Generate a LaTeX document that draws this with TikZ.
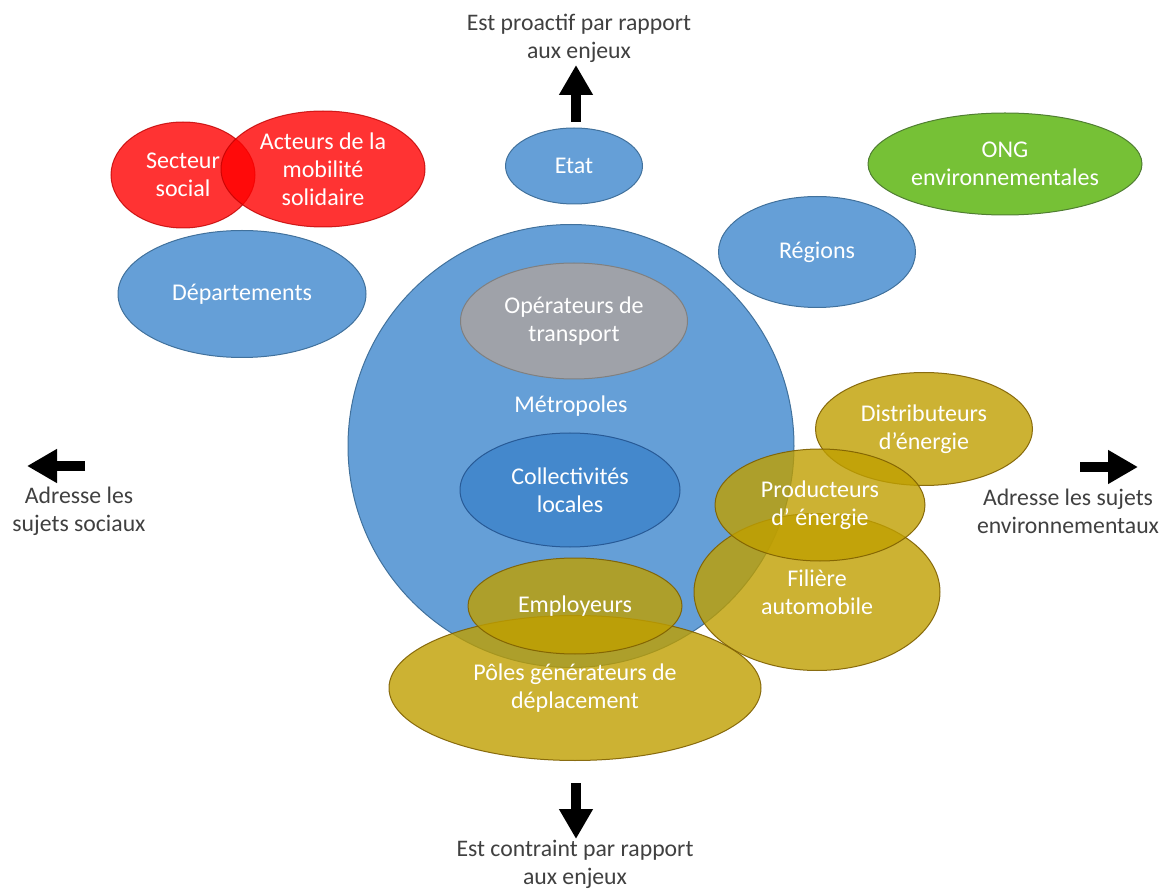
\documentclass[tikz,border=0pt]{standalone}
\usepackage{fontspec}
\setmainfont{Carlito}
\usetikzlibrary{arrows.meta,shapes.geometric}
\definecolor{blueF}{RGB}{101,159,215}
\definecolor{blueD}{RGB}{65,113,156}
\definecolor{collF}{RGB}{68,136,204}
\definecolor{collD}{RGB}{40,90,150}
\definecolor{grayF}{RGB}{159,162,169}
\definecolor{grayD}{RGB}{128,128,128}
\definecolor{redD}{RGB}{192,0,0}
\definecolor{greenF}{RGB}{118,193,54}
\definecolor{greenD}{RGB}{80,126,50}
\definecolor{goldF}{RGB}{191,159,0}
\definecolor{goldD}{RGB}{127,96,0}
\definecolor{txtG}{RGB}{64,64,64}
\begin{document}
\begin{tikzpicture}[x=0.75pt,y=-0.75pt,
  ell/.style={ellipse, draw, line width=0.75pt, inner sep=0pt, align=center, text=white,
    font=\fontsize{18}{21}\selectfont},
  blueE/.style={ell, fill=blueF, draw=blueD},
  redE/.style={ell, fill=red, fill opacity=0.8, draw=redD, draw opacity=0.8, text opacity=1},
  goldE/.style={ell, fill=goldF, fill opacity=0.8, draw=goldD, draw opacity=0.9, text opacity=1},
  outtxt/.style={align=center, text=txtG, font=\fontsize{17.8}{21}\selectfont, inner sep=0pt},
  blockarrow/.style={line width=7.5pt, -{Triangle[length=22.5pt,width=24pt]}, black}
]
\useasboundingbox (0,0) rectangle (1165,891);

% red
\node[redE, minimum width=.75*144pt, minimum height=.75*106pt] (sect) at (183,175) {Secteur\\social};
\node[redE, minimum width=.75*204pt, minimum height=.75*116pt] (act) at (323,169) {Acteurs de la\\mobilité\\solidaire};

% blue
\node[blueE, minimum width=.75*248pt, minimum height=.75*127pt] (dep) at (242,294) {Départements};
\node[blueE, minimum width=.75*137pt, minimum height=.75*76pt] (etat) at (574,166) {Etat};
\node[blueE, minimum width=.75*197pt, minimum height=.75*111pt] (reg) at (817,252) {Régions};
\node[ell, fill=greenF, draw=greenD, minimum width=.75*274pt, minimum height=.75*102pt] (ong) at (1005,164) {ONG\\environnementales};

\node[ellipse, draw=blueD, fill=blueF, line width=0.75pt, minimum width=.75*446pt, minimum height=.75*443pt, inner sep=0pt] (metro) at (571,446) {};
\node[text=white, font=\fontsize{18}{21}\selectfont, inner sep=0pt] (metroT) at (571,406) {Métropoles};
\node[ell, fill=grayF, draw=grayD, minimum width=.75*227pt, minimum height=.75*116pt] (oper) at (574,321) {Opérateurs de\\transport};
\node[ell, fill=collF, draw=collD, minimum width=.75*220pt, minimum height=.75*114pt] (coll) at (570,490) {Collectivités\\locales};

% gold
\node[goldE, minimum width=.75*217pt, minimum height=.75*113pt] (dist) at (924,429) {Distributeurs\\d’énergie};
\node[goldE, minimum width=.75*246pt, minimum height=.75*157pt] (fil) at (817,592) {Filière\\automobile};
\node[goldE, minimum width=.75*210pt, minimum height=.75*112pt] (prod) at (820,505) {Producteurs\\d’ énergie};
\node[goldE, minimum width=.75*372pt, minimum height=.75*145pt] (pole) at (575,688) {Pôles générateurs de\\déplacement};
\node[goldE, minimum width=.75*214pt, minimum height=.75*96pt] (empl) at (575,606) {Employeurs};

% outside texts
\node[outtxt] (proT) at (579,38) {Est proactif par rapport\\aux enjeux};
\node[outtxt] (conT) at (575,864) {Est contraint par rapport\\aux enjeux};
\node[outtxt] (socT) at (79,511) {Adresse les\\sujets sociaux};
\node[outtxt] (envT) at (1068,511) {Adresse les sujets\\environnementaux};

% block arrows
\coordinate (upS) at (576,122); \coordinate (upE) at (576,65);
\coordinate (dnS) at (576,783); \coordinate (dnE) at (576,839);
\coordinate (lfS) at (85,466); \coordinate (lfE) at (27,466);
\coordinate (rtS) at (1080,467); \coordinate (rtE) at (1138,467);
\draw[blockarrow] (upS) -- (upE);
\draw[blockarrow] (dnS) -- (dnE);
\draw[blockarrow] (lfS) -- (lfE);
\draw[blockarrow] (rtS) -- (rtE);
\end{tikzpicture}
\end{document}
